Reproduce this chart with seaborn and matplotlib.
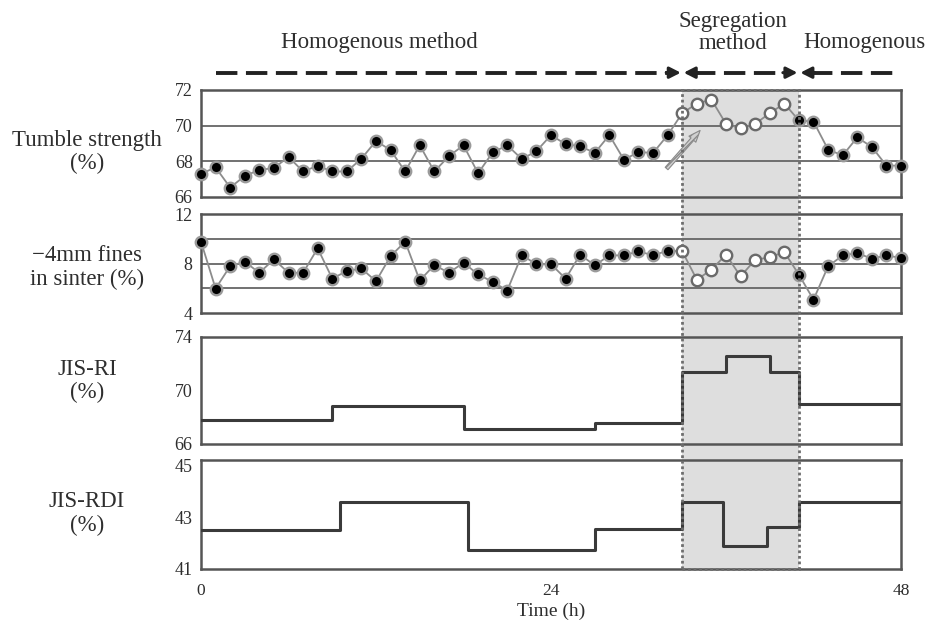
import numpy as np
import pandas as pd
import seaborn as sns
import matplotlib
matplotlib.use("Agg")
import matplotlib.pyplot as plt
from matplotlib import transforms
from matplotlib.patches import Rectangle
from matplotlib.ticker import MultipleLocator, FixedLocator

# ---- data -----------------------------------------------------------------
hours = list(range(49))

tumble_strength = [67.3, 67.66, 66.53, 67.18, 67.52, 67.62, 68.25, 67.43, 67.75,
                   67.43, 67.43, 68.15, 69.14, 68.63, 67.43, 68.9, 67.43, 68.29,
                   68.9, 67.33, 68.5, 68.9, 68.13, 68.57, 69.47, 68.96, 68.85,
                   68.47, 69.47, 68.09, 68.52, 68.47, 69.47, 70.7, 71.24, 71.46,
                   70.1, 69.85, 70.1, 70.7, 71.24, 70.29, 70.23, 68.66, 68.33,
                   69.34, 68.81, 67.76, 67.76]

fines_4mm = [9.77, 5.98, 7.79, 8.15, 7.25, 8.34, 7.25, 7.25, 9.23, 6.79, 7.39,
             7.6, 6.57, 8.6, 9.77, 6.63, 7.88, 7.25, 8.07, 7.12, 6.52, 5.82, 8.69,
             7.93, 7.95, 6.78, 8.72, 7.85, 8.66, 8.66, 8.99, 8.66, 9.04, 8.99,
             6.7, 7.5, 8.72, 6.96, 8.31, 8.5, 8.93, 7.1, 5.08, 7.77, 8.66, 8.85,
             8.39, 8.66, 8.45]

segregation_start, segregation_end = 33, 41

# JIS-RI and JIS-RDI are constant between analysis times (step profiles)
ri_times = [0, 9, 18, 27, 33, 36, 39, 41, 48]
ri_values = [67.8, 68.85, 67.15, 67.6, 71.4, 72.6, 71.35, 69.0, 69.0]
rdi_times = [0, 9.5, 18.3, 27, 33, 35.8, 38.8, 41, 48]
rdi_values = [42.5, 43.6, 41.75, 42.55, 43.6, 41.9, 42.6, 43.6, 43.6]

tumble_grid = [68, 70]
fines_grid = [6, 8, 10]

method = ["Segregation" if segregation_start <= h < segregation_end else "Homogenous"
          for h in hours]
sinter = pd.DataFrame({"hours": hours, "tumble": tumble_strength,
                       "fines": fines_4mm, "method": method})
ri = pd.DataFrame({"hours": ri_times, "value": ri_values})
rdi = pd.DataFrame({"hours": rdi_times, "value": rdi_values})

# ---- style ------------------------------------------------------------------
sns.set_theme(style="white")
plt.rcParams["font.family"] = ["Liberation Serif", "DejaVu Serif"]
plt.rcParams["axes.facecolor"] = "none"
plt.rcParams["text.color"] = "#2e2e2e"
plt.rcParams["axes.unicode_minus"] = True

SPINE = "#555555"
TXT = "#2e2e2e"

fig = plt.figure(figsize=(9.28, 6.32), dpi=100)
left, width = 0.2166, 0.7543
ax1 = fig.add_axes([left, 0.6883, width, 0.1693])
ax2 = fig.add_axes([left, 0.5047, width, 0.1566])
ax3 = fig.add_axes([left, 0.2975, width, 0.1693])
ax4 = fig.add_axes([left, 0.0997, width, 0.1725])
axes = [ax1, ax2, ax3, ax4]

for ax in axes:
    ax.set_xlim(0, 48)
    for s in ax.spines.values():
        s.set_color(SPINE)
        s.set_linewidth(1.8)
    ax.xaxis.set_major_locator(FixedLocator([0, 24, 48]))
    ax.xaxis.set_minor_locator(MultipleLocator(3))
    ax.tick_params(axis="both", which="both", direction="in", colors=SPINE,
                   length=3, width=0.9, labelcolor=TXT)
    ax.tick_params(axis="y", labelsize=13, pad=6)
    ax.tick_params(axis="x", labelsize=12.5, pad=10)
    ax.set_xlabel("")
    ax.set_ylabel("")
    if ax is not ax4:
        ax.tick_params(axis="x", labelbottom=False)


def sinter_panel(ax, col):
    sns.lineplot(data=sinter, x="hours", y=col, ax=ax, color="#8c8c8c",
                 linewidth=1.3, zorder=3, legend=False)
    homog = sinter[sinter["method"] == "Homogenous"]
    segr = sinter[sinter["method"] == "Segregation"]
    sns.scatterplot(data=homog, x="hours", y=col, ax=ax, color="black",
                    edgecolor="#9a9a9a", linewidth=1.7, s=68, zorder=4,
                    legend=False, clip_on=False)
    sns.scatterplot(data=segr, x="hours", y=col, ax=ax, color="white",
                    edgecolor="#6a6a6a", linewidth=1.7, s=68, zorder=4,
                    legend=False, clip_on=False)
    ax.set_xlabel("")
    ax.set_ylabel("")


# Tumble strength
sinter_panel(ax1, "tumble")
ax1.set_ylim(66, 72)
ax1.set_yticks([66, 68, 70, 72])
for g in tumble_grid:
    ax1.axhline(g, color="#666666", lw=1.3, zorder=1)
ax1.annotate("", xy=(34.35, 69.85), xytext=(31.8, 67.48),
             arrowprops=dict(arrowstyle="simple,head_width=0.55,head_length=0.7,tail_width=0.22",
                             fc="#d0d0d0", ec="#8a8a8a", lw=0.8, hatch="/////"),
             zorder=2)

# -4 mm fines
sinter_panel(ax2, "fines")
ax2.set_ylim(4, 12)
ax2.set_yticks([4, 8, 12])
for g in fines_grid:
    ax2.axhline(g, color="#666666", lw=1.3, zorder=1)

# JIS-RI
sns.lineplot(data=ri, x="hours", y="value", ax=ax3, drawstyle="steps-post",
             color="#3a3a3a", linewidth=2.2, zorder=3, legend=False)
ax3.set_ylim(66, 74)
ax3.set_yticks([66, 70, 74])
ax3.yaxis.set_minor_locator(MultipleLocator(1))

# JIS-RDI
sns.lineplot(data=rdi, x="hours", y="value", ax=ax4, drawstyle="steps-post",
             color="#3a3a3a", linewidth=2.2, zorder=3, legend=False)
ax4.set_ylim(41, 45.2)
ax4.set_yticks([41, 43, 45])
ax4.yaxis.set_minor_locator(MultipleLocator(0.5))
ax4.set_xticklabels(["0", "24", "48"])
ax4.set_xlabel("Time (h)", fontsize=14, labelpad=3, color=TXT)

for ax in axes[:3]:
    ax.set_xlabel("")

# panel labels
labels = ["Tumble strength\n(%)", "\u22124mm fines\nin sinter (%)",
          "JIS-RI\n(%)", "JIS-RDI\n(%)"]
label_y = [0.42, 0.46, 0.59, 0.51]
for ax, lab, yy in zip(axes, labels, label_y):
    ax.set_ylabel(lab, rotation=0, ha="center", va="center", fontsize=16.5,
                  linespacing=1.15, color=TXT)
    ax.yaxis.set_label_coords(-0.163, yy)

# shaded segregation period spanning all panels
blend = transforms.blended_transform_factory(ax4.transData, fig.transFigure)
y0 = 0.0997
y1 = 0.6883 + 0.1693
fig.add_artist(Rectangle((segregation_start, y0), segregation_end - segregation_start,
                         y1 - y0, transform=blend, facecolor="#dedede",
                         edgecolor="none", zorder=-1))
fig.add_artist(Rectangle((segregation_start, y0), segregation_end - segregation_start,
                         y1 - y0, transform=blend, fill=False, edgecolor="#6e6e6e",
                         linestyle=(0, (1, 1)), linewidth=2.0, zorder=5))

# method headers with dashed period arrows
hdr = transforms.blended_transform_factory(ax1.transData, ax1.transAxes)
ya = 1.162
dash_kw = dict(color="#222222", lw=2.8, dashes=(5.5, 2.2), transform=hdr,
               clip_on=False, solid_capstyle="butt", dash_capstyle="butt")
ax1.plot([1.0, 32.2], [ya, ya], **dash_kw)
ax1.plot([33.8, 40.2], [ya, ya], **dash_kw)
ax1.plot([41.8, 47.5], [ya, ya], **dash_kw)
head_kw = dict(arrowstyle="-|>,head_length=0.55,head_width=0.28", color="#222222",
               lw=2.2, shrinkA=0, shrinkB=0)
for tip, tail in [(32.9, 31.9), (33.1, 34.1), (40.9, 39.9), (41.1, 42.1)]:
    ax1.annotate("", xy=(tip, ya), xytext=(tail, ya), xycoords=hdr, textcoords=hdr,
                 arrowprops=head_kw, annotation_clip=False)

fig.text(0.4084, 0.9335, "Homogenous method", ha="center", va="center",
         fontsize=16.5, color=TXT)
fig.text(0.790, 0.9486, "Segregation\nmethod", ha="center", va="center",
         fontsize=16.5, color=TXT, linespacing=1.05)
fig.text(0.931, 0.9335, "Homogenous", ha="center", va="center",
         fontsize=16.5, color=TXT)

fig.savefig("out.png", dpi=100)
